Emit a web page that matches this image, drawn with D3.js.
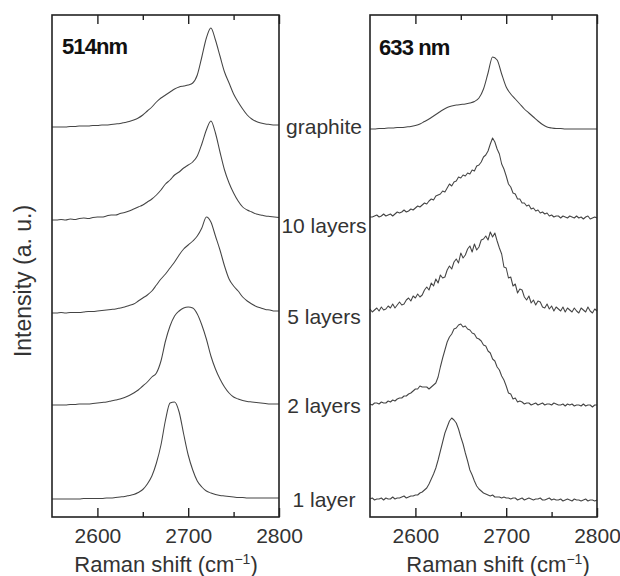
<!DOCTYPE html>
<html>
<head>
<meta charset="utf-8">
<script src="https://cdn.jsdelivr.net/npm/d3@7"></script>
<style>
  html, body { margin: 0; padding: 0; background: #fff; }
  svg { display: block; font-family: "Liberation Sans", Arial, Helvetica, sans-serif; }
</style>
</head>
<body>
<svg id="chart" width="620" height="576"></svg>
<script>
// ---------------- DATA ----------------
const sampleLabels = ["graphite", "10 layers", "5 layers", "2 layers", "1 layer"];
const laserLabels = ["514nm", "633 nm"];
const xTicksMajor = [2600, 2700, 2800];
const xTicksMinor = [2650, 2750];

// Raman shift grids (cm^-1)
const grid5 = d3.range(2550, 2800.01, 5);     // 51 samples
const grid25 = d3.range(2550, 2800.01, 2.5);  // 101 samples

// vertical stacking offsets (a.u.), order: graphite, 10, 5, 2, 1 layer
const offsets514 = [372, 280, 187, 94, 0];
const offsets633 = [370, 282, 189, 95, 0];

// ---- 514 nm spectra (step 5 cm^-1) ----
const graphite514 = [
  0, 0, 0, 0, 0.5, 0.5, 1, 1, 1, 1.5,
  1.5, 2, 2, 2.5, 3, 3.5, 4.5, 5.5, 7, 9,
  12, 16, 20, 25, 29, 32, 35, 38, 40, 41,
  42, 44, 52, 70, 89, 99, 87, 71, 55, 44,
  33, 25, 18, 12, 8, 5.5, 4, 3, 2.5, 2, 2
];
const layers10_514 = [
  -1, -1, -0.5, -1, 0, -0.5, 0.5, 1, 0.5, 1.5,
  2, 2, 3, 4, 4, 5.5, 6.5, 8, 10, 12,
  14, 17, 20, 24, 29, 35, 39, 44, 47, 51,
  54, 57, 63, 75, 89, 98, 86, 67, 49, 36,
  26, 18, 12, 9, 7, 5, 4, 3, 2.5, 2, 1.5
];
const layers5_514 = [
  -1, -1, -0.5, -1, -0.5, -0.5, -0.5, 0, 0.5, 0.5,
  1, 1.5, 2, 2.5, 3, 4, 5, 6.5, 8, 11,
  14, 17, 21, 27, 33, 38, 44, 50, 57, 63,
  67, 71, 76, 84, 95, 90, 76, 62, 46, 33,
  26, 21, 15, 11, 8, 5.5, 4, 2.5, 2, 1, 1
];
const layers2_514 = [
  0, 0, 0, 0, 0.5, 0.5, 1, 1, 1, 1.5,
  2, 2.5, 3, 4, 5, 6, 7.5, 9.5, 12, 15,
  19, 23, 28, 32, 44, 64, 79, 89, 94, 97,
  98, 97, 91, 80, 66, 49, 36, 26, 18, 12,
  8, 6, 4.5, 3.5, 3, 2.5, 2, 1.5, 1, 1, 1
];
const layer1_514 = [
  0, 0, 0, 0, 0, 0, 0, 0.5, 0.5, 0.5,
  0.5, 0.5, 1, 1, 1.5, 2, 2.5, 3.5, 4.5, 6.5,
  9.5, 15, 23, 36, 54, 79, 96, 97, 87, 65,
  44, 29, 18, 12, 8, 6, 4.5, 3.5, 3, 2.5,
  2, 1.5, 1.5, 1, 1, 1, 1, 1, 1, 1, 1
];

// ---- 633 nm spectra ----
const graphite633 = [   // step 5
  0, 0, 0.5, 0.5, 1, 1, 1.5, 1.5, 2, 2.5,
  3.5, 5, 7.5, 10, 13, 16, 19, 21.5, 23, 24,
  24.5, 25, 26, 27.5, 31, 40, 56, 72, 69, 55,
  42, 35, 30, 25, 20, 16, 12, 8, 4.5, 2,
  1, 0.5, 0.5, 0, 0, 0, 0, 0, 0, 0, 0
];
const layers10_633 = [  // step 2.5
  0, 0, 1, 2, 0, 1, 3, 1, 2, 3,
  1, 3, 5, 4, 5, 7, 5, 6, 8, 7,
  9, 11, 10, 12, 14, 13, 16, 18, 17, 21,
  22, 23, 26, 25, 29, 33, 31, 35, 36, 40,
  39, 42, 41, 44, 43, 47, 46, 51, 52, 55,
  60, 62, 66, 73, 79, 75, 68, 63, 53, 48,
  41, 33, 30, 24, 23, 18, 18, 14, 14, 11,
  12, 8, 9, 6, 7, 4, 5, 3, 4, 1,
  2, 0, 1, 1, -1, 1, 0, -1, 1, 0,
  -1, 1, -1, 0, -2, 0, 1, -2, -1, 0,
  -1
];
const layers5_633 = [   // step 2.5
  1, -2, 0, 2, -1, 3, 0, 1, 4, 2,
  6, 2, 5, 8, 5, 6, 10, 12, 9, 14,
  12, 16, 13, 15, 20, 23, 20, 27, 24, 31,
  27, 35, 32, 33, 40, 44, 41, 48, 51, 47,
  57, 52, 55, 61, 64, 58, 66, 60, 63, 70,
  71, 74, 70, 78, 73, 77, 69, 62, 56, 43,
  42, 32, 33, 24, 26, 17, 21, 20, 13, 10,
  14, 7, 10, 5, 9, 8, 3, 2, 6, 1,
  4, -1, 3, 1, -1, 3, -2, 2, 0, -2,
  2, -1, -3, 2, 0, -2, 3, -1, -3, 1,
  -1
];
const layers2_633 = [   // step 2.5
  0, -1, 1, 1, 0, 2, 1, 1, 3, 2,
  4, 3, 5, 6, 6, 8, 8, 10, 11, 13,
  15, 15, 18, 17, 17, 17, 15, 17, 19, 21,
  27, 37, 46, 54, 62, 67, 70, 75, 76, 79,
  80, 77, 78, 75, 74, 71, 70, 66, 65, 63,
  59, 58, 53, 51, 45, 43, 37, 34, 28, 24,
  18, 11, 10, 5, 6, 2, 3, 2, 0, 1,
  1, -1, 0, 1, -1, 0, 1, -1, 0, 0,
  -1, 1, 0, -1, -1, 0, -2, 0, -1, 0,
  -2, -1, -1, -2, 0, -2, -1, -1, -3, -1,
  -1
];
const layer1_633 = [    // step 2.5
  0, 1, -1, 0, 0, 1, -1, 1, 0, 0,
  2, 0, 1, 1, 2, 3, 1, 2, 3, 3,
  4, 4, 6, 7, 9, 11, 15, 20, 25, 31,
  39, 48, 57, 66, 72, 78, 81, 79, 76, 70,
  62, 55, 46, 38, 29, 24, 18, 13, 10, 8,
  6, 5, 4, 3, 4, 2, 2, 2, 1, 2,
  1, 1, 0, 1, 1, -1, 0, 1, -1, 0,
  1, 0, -1, 0, 0, 1, -1, -1, 0, 1,
  -1, 0, -1, -1, 0, -2, -1, 0, -1, -2,
  0, -1, -1, -2, -1, 0, -2, -1, -1, -2,
  -1
];

// ---------------- LAYOUT ----------------
const svg = d3.select("#chart");
const plotTop = 15, plotBottom = 517;
const panels = [
  { left: 52, right: 279, label: laserLabels[0], labelX: 62, labelY: 54, titleX: 166,
    offsets: offsets514,
    series: [
      { grid: grid5, vals: graphite514, smooth: true },
      { grid: grid5, vals: layers10_514, smooth: true },
      { grid: grid5, vals: layers5_514, smooth: true },
      { grid: grid5, vals: layers2_514, smooth: true },
      { grid: grid5, vals: layer1_514, smooth: true }
    ] },
  { left: 370, right: 597, label: laserLabels[1], labelX: 379, labelY: 55, titleX: 498,
    offsets: offsets633,
    series: [
      { grid: grid5, vals: graphite633, smooth: true },
      { grid: grid25, vals: layers10_633, smooth: false },
      { grid: grid25, vals: layers5_633, smooth: false },
      { grid: grid25, vals: layers2_633, smooth: false },
      { grid: grid25, vals: layer1_633, smooth: false }
    ] }
];

const y = d3.scaleLinear().domain([-18, 484]).range([plotBottom, plotTop]);

panels.forEach(p => {
  const x = d3.scaleLinear().domain([2550, 2800]).range([p.left, p.right]);
  const g = svg.append("g");

  // traces
  p.series.forEach((s, i) => {
    const pts = s.grid.map((w, k) => [w, s.vals[k]]).filter(d => d[1] !== undefined);
    const line = d3.line()
      .x(d => x(d[0]))
      .y(d => y(d[1] + p.offsets[i]))
      .curve(s.smooth ? d3.curveMonotoneX : d3.curveLinear);
    g.append("path")
      .datum(pts)
      .attr("d", line)
      .attr("fill", "none")
      .attr("stroke", "#444")
      .attr("stroke-width", 1.05)
      .attr("stroke-linejoin", "round");
  });

  // bottom axis: major ticks with labels
  const axB = g.append("g").attr("transform", `translate(0,${plotBottom})`)
    .call(d3.axisBottom(x).tickValues(xTicksMajor).tickSizeInner(-9).tickSizeOuter(0)
      .tickPadding(11).tickFormat(d3.format("d")));
  axB.select(".domain").remove();
  axB.selectAll("line").attr("stroke", "#222").attr("stroke-width", 1.4);
  axB.selectAll("text").attr("font-size", 21).attr("fill", "#333")
    .attr("font-family", "'Liberation Sans', Arial, sans-serif");

  // bottom minor ticks
  const axBm = g.append("g").attr("transform", `translate(0,${plotBottom})`)
    .call(d3.axisBottom(x).tickValues(xTicksMinor).tickSizeInner(-5).tickSizeOuter(0).tickFormat(""));
  axBm.select(".domain").remove();
  axBm.selectAll("line").attr("stroke", "#222").attr("stroke-width", 1.4);

  // top ticks
  const axT = g.append("g").attr("transform", `translate(0,${plotTop})`)
    .call(d3.axisTop(x).tickValues(xTicksMajor).tickSizeInner(-9).tickSizeOuter(0).tickFormat(""));
  axT.select(".domain").remove();
  axT.selectAll("line").attr("stroke", "#222").attr("stroke-width", 1.4);
  const axTm = g.append("g").attr("transform", `translate(0,${plotTop})`)
    .call(d3.axisTop(x).tickValues(xTicksMinor).tickSizeInner(-5).tickSizeOuter(0).tickFormat(""));
  axTm.select(".domain").remove();
  axTm.selectAll("line").attr("stroke", "#222").attr("stroke-width", 1.4);

  // frame
  g.append("rect")
    .attr("x", p.left).attr("y", plotTop)
    .attr("width", p.right - p.left).attr("height", plotBottom - plotTop)
    .attr("fill", "none").attr("stroke", "#222").attr("stroke-width", 1.6);

  // laser label
  g.append("text")
    .attr("x", p.labelX).attr("y", p.labelY)
    .attr("font-size", 22).attr("font-weight", "bold").attr("fill", "#111")
    .attr("letter-spacing", -0.9)
    .text(p.label);

  // x axis title
  const t = g.append("text")
    .attr("x", p.titleX).attr("y", 572)
    .attr("text-anchor", "middle").attr("font-size", 22).attr("fill", "#333");
  t.append("tspan").text("Raman shift (cm");
  t.append("tspan").attr("dy", -8).attr("font-size", 14).text("\u22121");
  t.append("tspan").attr("dy", 8).text(")");
});

// sample labels between panels
const labelBaselines = [134, 233, 324, 413, 507];
svg.append("g").selectAll("text")
  .data(sampleLabels)
  .join("text")
  .attr("x", 324)
  .attr("y", (d, i) => labelBaselines[i])
  .attr("text-anchor", "middle")
  .attr("font-size", 21)
  .attr("fill", "#333")
  .text(d => d);

// y axis title
svg.append("text")
  .attr("transform", "translate(31,281) rotate(-90)")
  .attr("text-anchor", "middle")
  .attr("font-size", 23)
  .attr("fill", "#333")
  .text("Intensity (a. u.)");
</script>
</body>
</html>
